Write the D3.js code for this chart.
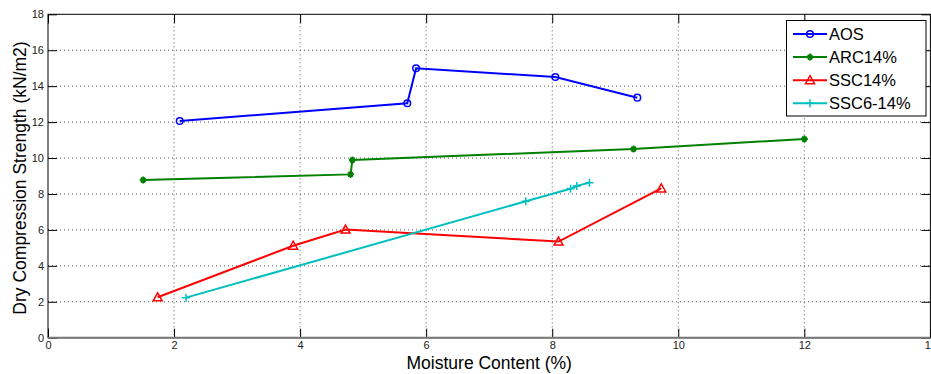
<!DOCTYPE html>
<html><head><meta charset="utf-8">
<script src="https://cdn.jsdelivr.net/npm/d3@7"></script>
<style>body{margin:0;background:#fff}svg{display:block}text{font-family:Arial,"Liberation Sans",sans-serif}</style>
</head><body><svg id="c" width="931" height="374"></svg>
<script>
const seriesNames = ["AOS","ARC14%","SSC14%","SSC6-14%"];
const aosX = [2.09,5.70,5.84,8.05,9.35];
const aosY = [12.06,13.05,15.0,14.51,13.36];
const arcX = [1.51,4.80,4.83,9.29,12.0];
const arcY = [8.78,9.09,9.89,10.50,11.06];
const sscX = [1.74,3.89,4.72,8.10,9.73];
const sscY = [2.25,5.12,6.02,5.35,8.31];
const ssc6X = [2.19,7.58,8.29,8.39,8.59];
const ssc6Y = [2.23,7.59,8.29,8.44,8.63];
const xTicks = [0,2,4,6,8,10,12,14];
const yTicks = [0,2,4,6,8,10,12,14,16,18];

const colors = ["#0000ff","#008000","#ff0000","#00bfbf"];
const markers = ["circle","star","triangle","plus"];
const data = [[aosX,aosY],[arcX,arcY],[sscX,sscY],[ssc6X,ssc6Y]];

const svg = d3.select("#c");
const L=48,R=930.4,T=14.3,B=337.7;
const x = d3.scaleLinear().domain([0,14]).range([L,R]);
const y = d3.scaleLinear().domain([0,18]).range([B,T]);

// grid
const g = svg.append("g");
g.selectAll("line.gx").data(xTicks.slice(1,-1)).join("line")
 .attr("x1",d=>x(d)).attr("x2",d=>x(d)).attr("y1",T).attr("y2",B)
 .attr("stroke","#555").attr("stroke-width",1).attr("stroke-dasharray","1,3");
g.selectAll("line.gy").data(yTicks.slice(1,-1)).join("line")
 .attr("y1",d=>y(d)).attr("y2",d=>y(d)).attr("x1",L).attr("x2",R)
 .attr("stroke","#555").attr("stroke-width",1).attr("stroke-dasharray","1,3");

// axes
const xa = svg.append("g").attr("transform",`translate(0,${B})`)
 .call(d3.axisBottom(x).tickValues(xTicks).tickSize(-9).tickPadding(4).tickFormat(d3.format("d")));
const ya = svg.append("g").attr("transform",`translate(${L},0)`)
 .call(d3.axisLeft(y).tickValues(yTicks).tickSize(-9).tickPadding(4).tickFormat(d3.format("d")));
const xt = svg.append("g").attr("transform",`translate(0,${T})`)
 .call(d3.axisTop(x).tickValues(xTicks).tickSize(-9).tickFormat(""));
const yr = svg.append("g").attr("transform",`translate(${R},0)`)
 .call(d3.axisRight(y).tickValues(yTicks).tickSize(-9).tickFormat(""));
[xa,ya,xt,yr].forEach(a=>{a.select(".domain").remove();a.selectAll("line").attr("stroke","#000");
 a.selectAll("text").attr("font-size",11).attr("fill","#222");});
svg.append("rect").attr("x",L).attr("y",T).attr("width",R-L).attr("height",B-T)
 .attr("fill","none").attr("stroke","#000").attr("stroke-width",1);
svg.append("line").attr("x1",L).attr("x2",R).attr("y1",B).attr("y2",B).attr("stroke","#777").attr("stroke-width",2);

function drawMarker(sel,type,color,cx,cy){
  if(type==="circle") sel.append("circle").attr("cx",cx).attr("cy",cy).attr("r",3.3).attr("fill","none").attr("stroke",color).attr("stroke-width",1.5);
  else if(type==="triangle") sel.append("path").attr("d",`M${cx},${cy-4.5}L${cx+4.5},${cy+3.5}L${cx-4.5},${cy+3.5}Z`).attr("fill","none").attr("stroke",color).attr("stroke-width",1.5);
  else if(type==="plus") sel.append("path").attr("d",`M${cx-4},${cy}H${cx+4}M${cx},${cy-4}V${cy+4}`).attr("stroke",color).attr("stroke-width",1.5);
  else sel.append("path").attr("d",`M${cx-3.5},${cy}H${cx+3.5}M${cx},${cy-3.5}V${cy+3.5}M${cx-2.3},${cy-2.3}L${cx+2.3},${cy+2.3}M${cx-2.3},${cy+2.3}L${cx+2.3},${cy-2.3}`).attr("stroke",color).attr("stroke-width",1.8);
}

const line = d3.line().x(d=>x(d[0])).y(d=>y(d[1]));
data.forEach((s,i)=>{
  const pts = s[0].map((v,j)=>[v,s[1][j]]);
  svg.append("path").attr("d",line(pts)).attr("fill","none").attr("stroke",colors[i]).attr("stroke-width",2);
  const mg = svg.append("g");
  pts.forEach(p=>drawMarker(mg,markers[i],colors[i],x(p[0]),y(p[1])));
});

// legend
const lg = svg.append("g");
lg.append("rect").attr("x",786.5).attr("y",20.5).attr("width",139.5).attr("height",95.5).attr("fill","#fff").attr("stroke","#000").attr("stroke-width",1);
seriesNames.forEach((n,i)=>{
  const yy = 34+i*23.1;
  lg.append("line").attr("x1",793).attr("x2",827).attr("y1",yy).attr("y2",yy).attr("stroke",colors[i]).attr("stroke-width",2);
  drawMarker(lg,markers[i],colors[i],810,yy);
  lg.append("text").attr("x",829).attr("y",yy+6).attr("font-size",16.5).attr("fill","#000").text(n);
});

// labels
svg.append("text").attr("x",(L+R)/2).attr("y",369).attr("text-anchor","middle").attr("font-size",17.5).text("Moisture Content (%)");
svg.append("text").attr("transform",`translate(26,${(T+B)/2+2}) rotate(-90)`).attr("text-anchor","middle").attr("font-size",17.5).text("Dry Compression Strength (kN/m2)");
</script></body></html>
